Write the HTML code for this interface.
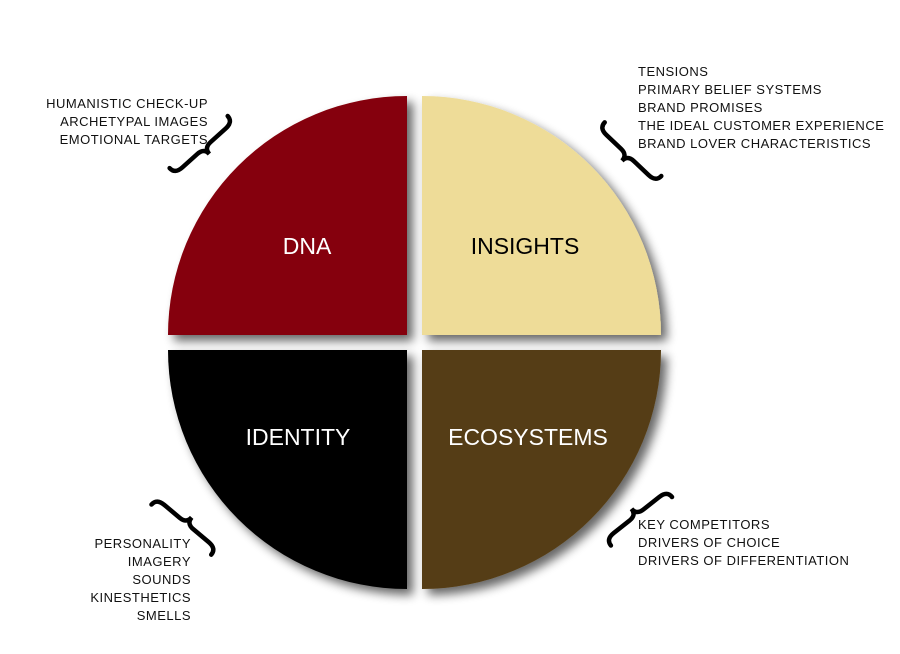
<!DOCTYPE html>
<html><head><meta charset="utf-8"><style>
html,body{margin:0;padding:0;background:#fff;}
svg{display:block;}
text{font-family:"Liberation Sans",Arial,sans-serif;}
.s{font-size:13px;fill:#111;letter-spacing:0.5px;}
.b{font-size:23px;}
</style></head><body>
<svg width="900" height="654" viewBox="0 0 900 654">
<defs>
<filter id="sh" x="-10%" y="-10%" width="130%" height="130%">
<feGaussianBlur in="SourceAlpha" stdDeviation="5"/>
<feOffset dx="6" dy="6" result="o"/>
<feComponentTransfer><feFuncA type="linear" slope="0.6"/></feComponentTransfer>
<feMerge><feMergeNode/><feMergeNode in="SourceGraphic"/></feMerge>
</filter>
</defs>
<g filter="url(#sh)">
<path d="M407,335 L168,335 A239,239 0 0 1 407,96 Z" fill="#850509"/>
<path d="M422,335 L422,96 A239,239 0 0 1 661,335 Z" fill="#eedc98"/>
<path d="M407,350 L168,350 A239,239 0 0 0 407,589 Z" fill="#000"/>
<path d="M422,350 L661,350 A239,239 0 0 1 422,589 Z" fill="#553d13"/>
</g>
<text class="b" x="307" y="254" fill="#fff" text-anchor="middle">DNA</text>
<text class="b" x="525" y="254" fill="#000" text-anchor="middle">INSIGHTS</text>
<text class="b" x="298" y="445" fill="#fff" text-anchor="middle">IDENTITY</text>
<text class="b" x="528" y="445" fill="#fff" text-anchor="middle">ECOSYSTEMS</text>

<g fill="none" stroke="#000" stroke-width="4.5" stroke-linecap="round">
<g transform="translate(204,148) rotate(-41.9)"><path d="M-39,-8 Q-39,0 -29,0 L-9,0 Q0,0 0,8 Q0,0 9,0 L29,0 Q39,0 39,-8"/></g>
<g transform="translate(627.5,155) rotate(43.5)"><path d="M-39,-8 Q-39,0 -29,0 L-9,0 Q0,0 0,8 Q0,0 9,0 L29,0 Q39,0 39,-8"/></g>
<g transform="translate(636.5,515) rotate(-38.4) scale(1,-1)"><path d="M-39,-8 Q-39,0 -29,0 L-9,0 Q0,0 0,8 Q0,0 9,0 L29,0 Q39,0 39,-8"/></g>
<g transform="translate(186.5,523.5) rotate(40) scale(1,-1)"><path d="M-39,-8 Q-39,0 -29,0 L-9,0 Q0,0 0,8 Q0,0 9,0 L29,0 Q39,0 39,-8"/></g>
</g>

<g text-anchor="end">
<text class="s" x="208" y="108">HUMANISTIC CHECK-UP</text>
<text class="s" x="208" y="126">ARCHETYPAL IMAGES</text>
<text class="s" x="208" y="144">EMOTIONAL TARGETS</text>
<text class="s" x="191" y="548">PERSONALITY</text>
<text class="s" x="191" y="566">IMAGERY</text>
<text class="s" x="191" y="584">SOUNDS</text>
<text class="s" x="191" y="602">KINESTHETICS</text>
<text class="s" x="191" y="620">SMELLS</text>
</g>
<g>
<text class="s" x="638" y="76">TENSIONS</text>
<text class="s" x="638" y="94">PRIMARY BELIEF SYSTEMS</text>
<text class="s" x="638" y="112">BRAND PROMISES</text>
<text class="s" x="638" y="130">THE IDEAL CUSTOMER EXPERIENCE</text>
<text class="s" x="638" y="148">BRAND LOVER CHARACTERISTICS</text>
<text class="s" x="638" y="529">KEY COMPETITORS</text>
<text class="s" x="638" y="547">DRIVERS OF CHOICE</text>
<text class="s" x="638" y="565">DRIVERS OF DIFFERENTIATION</text>
</g>
</svg>
</body></html>
